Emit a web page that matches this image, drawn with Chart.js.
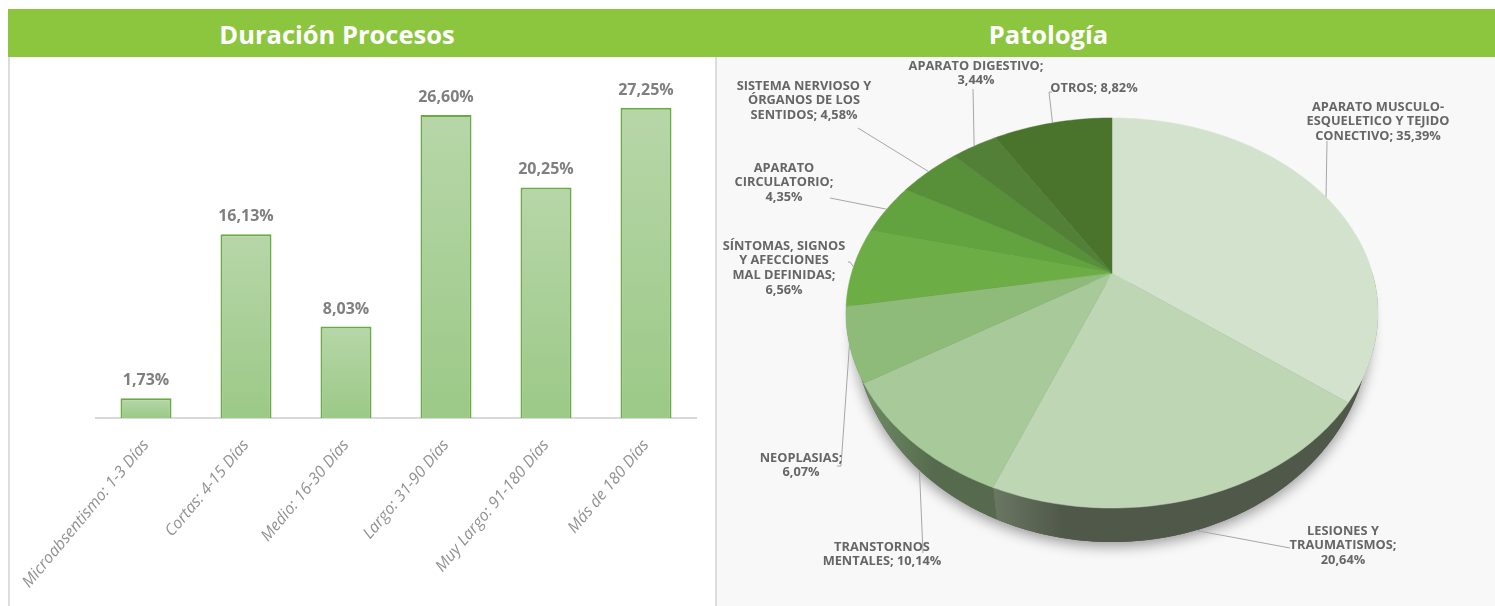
<!DOCTYPE html>
<html lang="es">
<head>
<meta charset="utf-8">
<title>Duración Procesos / Patología</title>
<script src="https://cdn.jsdelivr.net/npm/chart.js@4"></script>
<style>
    html, body { margin: 0; padding: 0; background: #fff; overflow: hidden; }
    body { width: 1495px; height: 606px; position: relative; font-family: "Open Sans", sans-serif; }
    .header {
        position: absolute; top: 9px; height: 48px; background: #8cc63f; color: #fff;
        font-weight: 700; font-size: 25.5px; line-height: 50px; text-align: center;
    }
    #panel-left { position: absolute; left: 8px; top: 57px; width: 707px; height: 549px; border-left: 2px solid #ddd; box-sizing: border-box; }
    #panel-right { position: absolute; left: 715px; top: 57px; width: 780px; height: 549px; border-left: 2px solid #ddd; box-sizing: border-box; background: #f8f8f8; }
    canvas { position: absolute; left: 0; top: 0; }
</style>
</head>
<body>
<div class="header" style="left:8px;width:658px">Duración Procesos</div>
<div class="header" style="left:666px;width:765px;padding-right:64px">Patología</div>
<div id="panel-left"><canvas id="bars" width="705" height="549"></canvas></div>
<div id="panel-right"><canvas id="pie" width="778" height="549"></canvas></div>

<script>
const durationLabels = ["Microabsentismo: 1-3 Días", "Cortas: 4-15 Días", "Medio: 16-30 Días", "Largo: 31-90 Días", "Muy Largo: 91-180 Días", "Más de 180 Días"];
const durationValues = [1.73, 16.13, 8.03, 26.60, 20.25, 27.25];

const pathologyNames = ["Aparato musculo-esqueletico y tejido conectivo", "Lesiones y traumatismos", "Transtornos mentales", "Neoplasias", "Síntomas, signos y afecciones mal definidas", "Aparato circulatorio", "Sistema nervioso y órganos de los sentidos", "Aparato digestivo", "Otros"];
const pathologyValues = [35.39, 20.64, 10.14, 6.07, 6.56, 4.35, 4.58, 3.44, 8.82];
const pathologyLines = [
    ["APARATO MUSCULO-", "ESQUELETICO Y TEJIDO", "CONECTIVO; %v"],
    ["LESIONES Y", "TRAUMATISMOS;", "%v"],
    ["TRANSTORNOS", "MENTALES; %v"],
    ["NEOPLASIAS;", "%v"],
    ["SÍNTOMAS, SIGNOS", "Y AFECCIONES", "MAL DEFINIDAS;", "%v"],
    ["APARATO", "CIRCULATORIO;", "%v"],
    ["SISTEMA NERVIOSO Y", "ÓRGANOS DE LOS", "SENTIDOS; %v"],
    ["APARATO DIGESTIVO;", "%v"],
    ["OTROS; %v"]
];
const pathologyColors = ["#d3e2cd", "#bfd6b5", "#a8ca9a", "#8fbb7a", "#6cad46", "#62a23f", "#588f39", "#518036", "#4a742c"];

// side wall colours, left and right end of each slice
const wallColors = [["#50584a", "#50584a"], ["#6a7862", "#50584a"], ["#6e8c63", "#566b4e"], ["#6e8f64", "#6e8c63"]];

// label block centre x / first line y, in pie canvas pixels
const labelSpots = [[661, 50], [626, 474], [165, 490], [84, 401], [67, 189], [67, 111], [87, 29], [259, 9], [377, 31]];
// leader line points after the rim point
const leaderPoints = [[[610, 84]], [[573, 491]], [[206, 496]], [[124, 409], [120, 409]], [[133, 205], [131, 205]], [[113, 141]], [[141, 71]], [[256, 32]], [[332, 35], [335, 35]]];

// pie is seen in perspective: apex sits above the middle of the ellipse
const TILT = 0.205, SCALE_X = 1.2056, SCALE_Y = 0.865;
const WALL_NARROW = 0.97, WALL_STRETCH = 1.1026, WALL_SHIFT = 9.9;

function rimPoint(arc, angle) {
    const x = Math.cos(angle), y = Math.sin(angle);
    const d = 1 - TILT * y;
    return {
        x: arc.x + SCALE_X * arc.outerRadius * x / d,
        y: arc.y + SCALE_Y * arc.outerRadius * y / d
    };
}

function wallPoint(arc, angle) {
    const p = rimPoint(arc, angle);
    return {
        x: arc.x + (p.x - arc.x) * WALL_NARROW,
        y: arc.y + (p.y - arc.y) * WALL_STRETCH + WALL_SHIFT
    };
}

function formatValue(v) {
    return v.toFixed(2).replace(".", ",") + "%";
}

const barLabels = {
    id: "barLabels",
    afterDatasetsDraw(chart) {
        const ctx = chart.ctx;
        ctx.save();
        ctx.font = '700 16px "Open Sans"';
        ctx.fillStyle = "#7f7f7f";
        ctx.textAlign = "center";
        ctx.textBaseline = "alphabetic";
        chart.getDatasetMeta(0).data.forEach((bar, i) => {
            ctx.fillText(formatValue(durationValues[i]), bar.x, bar.y - 13);
        });
        ctx.restore();
    }
};

new Chart(document.getElementById("bars"), {
    type: "bar",
    data: {
        labels: durationLabels,
        datasets: [{
            data: durationValues,
            backgroundColor: (c) => {
                const area = c.chart.chartArea;
                if (!area || !c.chart.scales.y) return "#a8cd96";
                const top = c.chart.scales.y.getPixelForValue(durationValues[c.dataIndex]);
                const g = c.chart.ctx.createLinearGradient(0, top, 0, area.bottom);
                g.addColorStop(0, "#b7d6a8");
                g.addColorStop(1, "#9bc987");
                return g;
            },
            borderColor: "#6aaa45",
            borderWidth: 2,
            borderSkipped: "bottom",
            categoryPercentage: 1,
            barPercentage: 0.51
        }]
    },
    options: {
        responsive: false,
        animation: false,
        layout: { padding: { left: 86, right: 19, top: 0, bottom: 0 } },
        plugins: { legend: { display: false }, tooltip: { enabled: false } },
        scales: {
            y: { display: false, min: 0, max: 31.7 },
            x: {
                afterFit: (scale) => {
                    scale.height = 188;
                    scale.paddingLeft = 0;
                    scale.paddingRight = 0;
                },
                grid: { display: false, drawTicks: false },
                border: { color: "#d9d9d9", width: 2 },
                ticks: {
                    minRotation: 50, maxRotation: 50, padding: 18, autoSkip: false,
                    color: "#919191",
                    font: { family: "Open Sans", size: 16, style: "italic" }
                }
            }
        }
    },
    plugins: [barLabels]
});

function traceRim(ctx, arc, from, to, pointFn, first) {
    const steps = Math.max(4, Math.ceil(Math.abs(to - from) * 60));
    for (let s = 0; s <= steps; s++) {
        const p = pointFn(arc, from + (to - from) * s / steps);
        if (s === 0 && first) ctx.moveTo(p.x, p.y);
        else ctx.lineTo(p.x, p.y);
    }
}

const projectedPie = {
    id: "projectedPie",
    beforeDatasetDraw(chart) {
        const ctx = chart.ctx;
        const arcs = chart.getDatasetMeta(0).data;
        ctx.save();

        // soft shadow below the disc, front half only
        ctx.save();
        ctx.shadowColor = "rgba(0,0,0,0.4)";
        ctx.shadowBlur = 14;
        ctx.shadowOffsetY = 4;
        ctx.fillStyle = "#50584a";
        ctx.beginPath();
        traceRim(ctx, arcs[0], 0, Math.PI, wallPoint, true);
        ctx.closePath();
        ctx.fill();
        ctx.restore();

        arcs.forEach((arc, i) => {
            const colors = wallColors[i];
            if (!colors) return;
            const from = Math.max(arc.startAngle, 0), to = Math.min(arc.endAngle, Math.PI);
            if (from >= to) return;
            const left = rimPoint(arc, to);
            const g = ctx.createLinearGradient(left.x, 0, left.x + 70, 0);
            g.addColorStop(0, colors[0]);
            g.addColorStop(1, colors[1]);
            ctx.fillStyle = g;
            ctx.beginPath();
            traceRim(ctx, arc, from, to, rimPoint, true);
            traceRim(ctx, arc, to, from, wallPoint, false);
            ctx.closePath();
            ctx.fill();
        });

        arcs.forEach((arc) => {
            ctx.fillStyle = arc.options.backgroundColor;
            ctx.strokeStyle = arc.options.backgroundColor;
            ctx.lineWidth = 0.5;
            ctx.beginPath();
            ctx.moveTo(arc.x, arc.y);
            traceRim(ctx, arc, arc.startAngle, arc.endAngle, rimPoint, false);
            ctx.closePath();
            ctx.fill();
            ctx.stroke();
        });
        ctx.restore();
        return false;
    },
    afterDraw(chart) {
        const ctx = chart.ctx;
        const arcs = chart.getDatasetMeta(0).data;
        ctx.save();
        ctx.strokeStyle = "#a6a6a6";
        ctx.lineWidth = 1;
        arcs.forEach((arc, i) => {
            const mid = (arc.startAngle + arc.endAngle) / 2;
            const onWall = i === 1 || i === 2;
            const start = onWall ? wallPoint(arc, mid) : rimPoint(arc, mid);
            ctx.beginPath();
            ctx.moveTo(start.x, start.y);
            leaderPoints[i].forEach(p => ctx.lineTo(p[0], p[1]));
            ctx.stroke();
        });

        ctx.font = '700 12.8px "Open Sans"';
        ctx.fillStyle = "#666666";
        ctx.textAlign = "center";
        ctx.textBaseline = "middle";
        pathologyLines.forEach((lines, i) => {
            lines.forEach((line, n) => {
                const text = line.replace("%v", formatValue(pathologyValues[i]));
                ctx.fillText(text, labelSpots[i][0], labelSpots[i][1] + n * 14.7);
            });
        });
        ctx.restore();
    }
};

new Chart(document.getElementById("pie"), {
    type: "pie",
    data: {
        labels: pathologyNames,
        datasets: [{ data: pathologyValues, backgroundColor: pathologyColors, borderWidth: 0 }]
    },
    options: {
        responsive: false,
        animation: false,
        layout: { padding: { left: 12, right: 0, top: 0, bottom: 117 } },
        plugins: { legend: { display: false }, tooltip: { enabled: false } }
    },
    plugins: [projectedPie]
});
</script>
</body>
</html>
